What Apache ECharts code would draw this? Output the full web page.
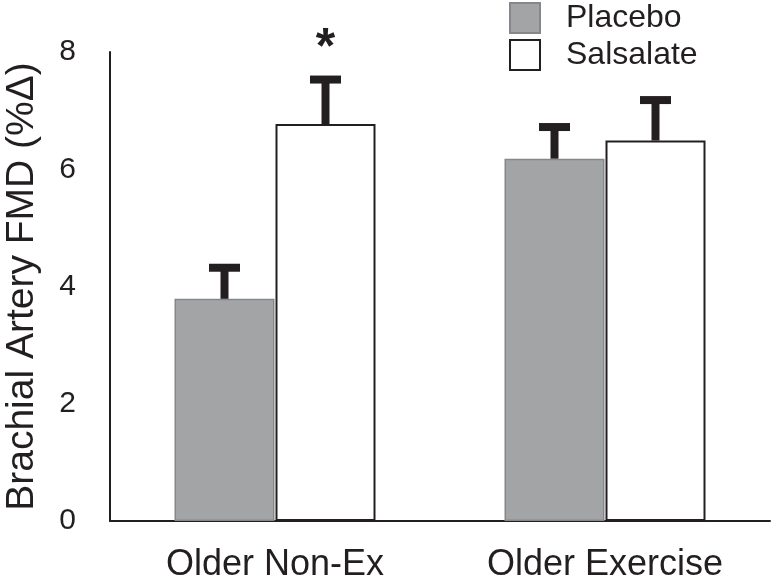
<!DOCTYPE html>
<html>
<head>
<meta charset="utf-8">
<script src="https://cdn.jsdelivr.net/npm/echarts@6/dist/echarts.min.js"></script>
<style>
html,body{margin:0;padding:0;background:#fff;}
#chart{width:774px;height:583px;}
</style>
</head>
<body>
<div id="chart"></div>
<script>
// ---- data ----
const categories = ['Older Non-Ex', 'Older Exercise'];
const placeboMean = [3.79, 6.18];
const placeboUpper = [4.32, 6.72];
const salsalateMean = [6.77, 6.49];
const salsalateUpper = [7.53, 7.18];
const salsalateSig = ['*', ''];
const yTicks = [0, 2, 4, 6, 8];

const INK = '#231f20';
const BAR_W = 100;
const GAP = 1;
const FONT = 'Liberation Sans, Arial, Helvetica, sans-serif';

const chart = echarts.init(document.getElementById('chart'), null, {renderer: 'canvas'});

function errRender(offsetSign, sigArr) {
  return function (params, api) {
    const idx = api.value(0);
    const mean = api.value(1);
    const up = api.value(2);
    const pm = api.coord([idx, mean]);
    const pu = api.coord([idx, up]);
    const dx = offsetSign * (BAR_W / 2 + GAP / 2);
    const x = pm[0] + dx;
    const stemW = 8, capW = 31, capH = 8;
    const children = [
      {type: 'rect', shape: {x: x - stemW / 2, y: pu[1], width: stemW, height: pm[1] - pu[1]}, style: {fill: INK}},
      {type: 'rect', shape: {x: x - capW / 2, y: pu[1] - capH / 2, width: capW, height: capH}, style: {fill: INK}}
    ];
    if (sigArr && sigArr[idx]) {
      children.push({type: 'text', style: {text: sigArr[idx], x: x, y: pu[1] - 30, align: 'center', verticalAlign: 'middle',
        fontSize: 50, fontWeight: 'bold', fontFamily: FONT, fill: INK}});
    }
    return {type: 'group', children: children};
  };
}

const option = {
  animation: false,
  backgroundColor: '#fff',
  textStyle: {fontFamily: FONT, color: INK},
  grid: {left: 110, right: 4, top: 52, bottom: 62, containLabel: false, outerBoundsMode: 'none'},
  legend: {
    orient: 'vertical', left: 504, top: -3, itemWidth: 30, itemHeight: 30, itemGap: 5,
    icon: 'rect',
    data: ['Placebo', 'Salsalate'],
    textStyle: {fontSize: 32, color: INK, padding: [0, 0, 0, 21], fontFamily: FONT}
  },
  xAxis: {
    type: 'category', data: categories,
    axisLine: {lineStyle: {color: INK, width: 2}},
    axisTick: {show: false},
    axisLabel: {fontSize: 36, color: INK, margin: 26, fontFamily: FONT}
  },
  yAxis: {
    type: 'value', min: yTicks[0], max: yTicks[yTicks.length - 1], interval: 2,
    name: 'Brachial Artery FMD (%Δ)', nameLocation: 'middle', nameGap: 68,
    nameTextStyle: {fontSize: 39, color: INK, fontFamily: FONT},
    axisLine: {show: true, lineStyle: {color: INK, width: 2}},
    axisTick: {show: false},
    splitLine: {show: false},
    axisLabel: {fontSize: 30, color: INK, margin: 34, fontFamily: FONT}
  },
  series: [
    {name: 'Placebo', type: 'bar', data: placeboMean, barWidth: BAR_W, barGap: (GAP / BAR_W * 100) + '%',
      itemStyle: {color: '#a3a4a6', borderColor: '#86878a', borderWidth: 1.5}},
    {name: 'Salsalate', type: 'bar', data: salsalateMean, barWidth: BAR_W,
      itemStyle: {color: '#ffffff', borderColor: INK, borderWidth: 2}},
    {name: 'errP', type: 'custom', renderItem: errRender(-1, null), z: 5,
      data: categories.map((c, i) => [i, placeboMean[i], placeboUpper[i]]), encode: {x: 0, y: [1, 2]}},
    {name: 'errS', type: 'custom', renderItem: errRender(1, salsalateSig), z: 5,
      data: categories.map((c, i) => [i, salsalateMean[i], salsalateUpper[i]]), encode: {x: 0, y: [1, 2]}}
  ]
};
chart.setOption(option);
</script>
</body>
</html>
